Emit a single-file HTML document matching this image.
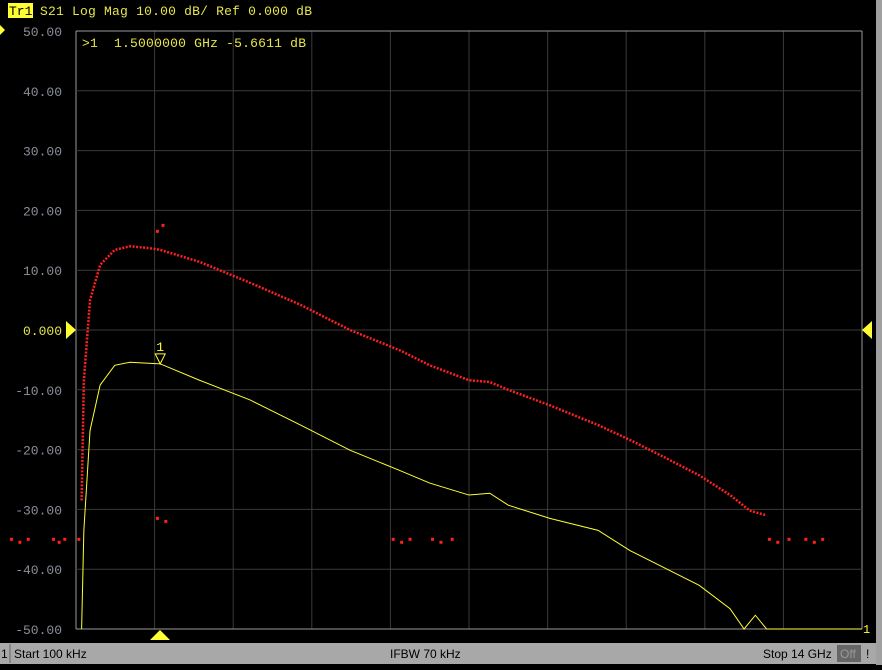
<!DOCTYPE html>
<html><head><meta charset="utf-8"><style>
body{margin:0;width:882px;height:665px;background:#000;overflow:hidden;font-family:"Liberation Mono","DejaVu Sans Mono",monospace}
</style></head><body>
<svg id="c" width="882" height="665" xmlns="http://www.w3.org/2000/svg">
<rect x="0" y="0" width="882" height="665" fill="#000"/>
<g id="grid"></g>
<g id="ylabels"></g>
<g id="traces"></g>
<polygon points="0,25 5,30 0,35" fill="#ffff33"/>
<rect x="8" y="3" width="25" height="15" fill="#ffff33"/>
<text x="9" y="15" font-size="13" fill="#000" font-family="Liberation Mono, monospace">Tr1</text>
<text x="40" y="15" font-size="13" fill="#e6e64a" font-family="Liberation Mono, monospace" textLength="272">S21 Log Mag 10.00 dB/ Ref 0.000 dB</text>
<text x="82" y="47" font-size="13" fill="#e6e64a" font-family="Liberation Mono, monospace" textLength="224" xml:space="preserve">&gt;1  1.5000000 GHz -5.6611 dB</text>
<polygon points="66,321 76,330 66,339" fill="#ffff33"/>
<polygon points="872,321 862,330 872,339" fill="#ffff33"/>
<polygon points="150,640 160,630 170,640" fill="#ffff33"/>
<text x="863" y="633" font-size="12" fill="#ffff33">1</text>
<rect x="0" y="643" width="876" height="21" fill="#a8a8a8"/>
<rect x="876" y="0" width="6" height="665" fill="#a0a0a0"/>
<line x1="10" y1="644" x2="10" y2="663" stroke="#666"/>
<text x="1" y="658" font-size="12" fill="#000" font-family="Liberation Sans, sans-serif">1</text>
<text x="14" y="658" font-size="12" fill="#000" font-family="Liberation Sans, sans-serif">Start 100 kHz</text>
<text x="390" y="658" font-size="12" fill="#000" font-family="Liberation Sans, sans-serif">IFBW 70 kHz</text>
<text x="763" y="658" font-size="12" fill="#000" font-family="Liberation Sans, sans-serif">Stop 14 GHz</text>
<rect x="837" y="645" width="24" height="17" fill="#666"/>
<text x="840" y="658" font-size="12" fill="#999" font-family="Liberation Sans, sans-serif">Off</text>
<text x="866" y="658" font-size="12" fill="#000" font-family="Liberation Sans, sans-serif">!</text>
</svg>
<script>
const yTicks=[50,40,30,20,10,0,-10,-20,-30,-40,-50];
const yTickLabels=["50.00","40.00","30.00","20.00","10.00","0.000","-10.00","-20.00","-30.00","-40.00","-50.00"];
const yelFreq=[0.1,0.14,0.25,0.43,0.69,0.96,1.5,2.2,3.1,4.0,4.88,5.77,6.3,7.0,7.37,7.7,8.44,9.3,9.87,10.4,11.1,11.65,11.9,12.1,12.3,14];
const yelDb=[-50,-33.5,-16.8,-9.2,-5.9,-5.4,-5.66,-8.4,-11.7,-15.9,-20.1,-23.5,-25.6,-27.6,-27.3,-29.3,-31.5,-33.5,-36.9,-39.4,-42.7,-46.6,-50,-47.7,-50,-50];
const redFreq=[0.1,0.14,0.25,0.43,0.69,0.96,1.3,1.5,2.2,3.1,4.0,4.88,5.77,6.3,7.0,7.37,7.7,8.44,9.3,9.87,10.4,11.1,11.65,12.0,12.3];
const redDb=[-28.5,-8.4,5,10.9,13.4,14,13.7,13.4,11.4,7.9,4.2,0,-3.4,-5.9,-8.4,-8.7,-10,-12.6,-15.9,-18.4,-20.9,-24.3,-27.6,-30.2,-31];
const noiseFreq=[-1.15,-1.0,-0.85,-0.4,-0.3,-0.2,0.05,5.65,5.8,5.95,6.35,6.5,6.7,12.35,12.5,12.7,13.0,13.15,13.3,1.45,1.6,1.45,1.55];
const noiseDb=[-35,-35.5,-35,-35,-35.5,-35,-35,-35,-35.5,-35,-35,-35.5,-35,-35,-35.5,-35,-35,-35.5,-35,-31.5,-32,16.5,17.5];
const X0=76,X1=862,Y0=31,Y1=629,F0=0,F1=14;
const xs=f=>X0+(f-F0)/(F1-F0)*(X1-X0);
const ys=d=>Y0+(50-d)/100*(Y1-Y0);
const NS="http://www.w3.org/2000/svg";
function mk(t,a,p){const e=document.createElementNS(NS,t);for(const k in a)e.setAttribute(k,a[k]);p.appendChild(e);return e;}
const grid=document.getElementById('grid');
for(let i=0;i<=10;i++){
 const x=X0+i*(X1-X0)/10;
 const l=mk('line',{x1:x,y1:Y0,x2:x,y2:Y1,stroke:(i==0||i==10)?'#9a9a9a':'#3a3a3a','stroke-width':1},grid);
 
 
}
const yl=document.getElementById('ylabels');
yTicks.forEach((v,i)=>{
 const y=ys(v);
 const l=mk('line',{x1:X0,y1:y,x2:X1,y2:y,stroke:(i==0||i==10)?'#9a9a9a':'#3a3a3a'},grid);
 
 
 const t=mk('text',{x:62,y:y+5,'text-anchor':'end','font-size':13,fill:v===0?'#e6e64a':'#8a8f9a'},yl);
 t.textContent=yTickLabels[i];
 
 
});
const tr=document.getElementById('traces');
const rp=mk('polyline',{points:redFreq.map((f,i)=>xs(f)+','+ys(redDb[i])).join(' '),fill:'none',stroke:'#ff2020','stroke-width':2.5,'stroke-dasharray':'2 1.5'},tr);


noiseFreq.forEach((f,i)=>{
 const c=mk('rect',{x:xs(f)-1.5,y:ys(noiseDb[i])-1.5,width:3,height:3,fill:'#ff2020'},tr);
 
 
});
const yp=mk('polyline',{points:yelFreq.map((f,i)=>xs(f)+','+ys(yelDb[i])).join(' '),fill:'none',stroke:'#ffff33','stroke-width':1},tr);


const mx=xs(1.5),my=ys(-5.66);
const m=mk('polygon',{points:(mx-5)+','+(my-10)+' '+(mx+5)+','+(my-10)+' '+mx+','+my,fill:'none',stroke:'#ffff33'},tr);


const mt=mk('text',{x:mx-4,y:my-13,'font-size':13,fill:'#ffff33'},tr);
mt.textContent='1';


</script>
</body></html>
